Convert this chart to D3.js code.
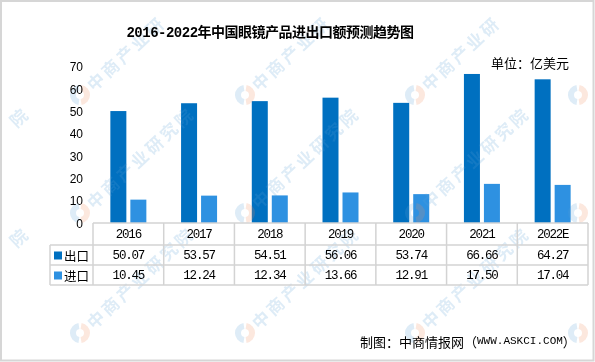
<!DOCTYPE html>
<html><head><meta charset="utf-8">
<script src="https://cdn.jsdelivr.net/npm/d3@7"></script>
<style>html,body{margin:0;padding:0;background:#fff;}svg{display:block;}</style>
</head><body>
<svg id="c" width="595" height="362"></svg>
<script>
const years = ["2016","2017","2018","2019","2020","2021","2022E"];
const seriesNames = ["出口","进口"];
const exportVals = [50.07,53.57,54.51,56.06,53.74,66.66,64.27];
const importVals = [10.45,12.24,12.34,13.66,12.91,17.50,17.04];
const exportLabels = ["50.07","53.57","54.51","56.06","53.74","66.66","64.27"];
const importLabels = ["10.45","12.24","12.34","13.66","12.91","17.50","17.04"];
const yTicks = [0,10,20,30,40,50,60,70];
const colors = ["#0070c0","#2e91e1"];
const titleText = "2016-2022年中国眼镜产品进出口额预测趋势图";
const unitText = "单位：亿美元";
const sourceCN = "制图：中商情报网（";
const sourceEN = "WWW.ASKCI.COM";
const sourceEnd = "）";
const wmText = "中商产业研究院";

const svg = d3.select("#c");
svg.append("rect").attr("x",0).attr("y",0).attr("width",595).attr("height",362).attr("fill","#fff");

const CJK = "'Noto Sans CJK SC', sans-serif";
const MONO = "'Liberation Mono', 'Noto Sans CJK SC', monospace";

// scales
const y = d3.scaleLinear().domain([0,70]).range([223,66.5]);
const x = d3.scaleBand().domain(years).range([93,588]).padding(0);
const xs = d3.scaleBand().domain(seriesNames).range([-18,18]).paddingInner(0.2);

// bars
const series = [exportVals, importVals];
series.forEach((vals,si)=>{
  svg.append("g").selectAll("rect").data(vals).join("rect")
    .attr("x",(d,i)=>x(years[i])+x.bandwidth()/2+xs(seriesNames[si]))
    .attr("width",xs.bandwidth())
    .attr("y",d=>y(d)).attr("height",d=>y(0)-y(d))
    .attr("fill",colors[si]);
});

// watermark (drawn over bars, faint); characters placed individually, only those fully inside
const clip = svg.append("clipPath").attr("id","wmclip");
clip.append("rect").attr("x",0).attr("y",0).attr("width",595).attr("height",362);
const wm = svg.append("g").attr("clip-path","url(#wmclip)").attr("opacity",0.2).style("pointer-events","none");
const wx = [-85,80,245,415,578];
const wy = [-25,95,213,333,453];
const ang = -43, ca = Math.cos(ang*Math.PI/180), sa = Math.sin(ang*Math.PI/180);
const chars = Array.from(wmText);
wx.forEach(x0=>wy.forEach(y0=>{
  const r = 7;
  const g = wm.append("g").attr("transform",`translate(${x0},${y0})`);
  g.append("path").attr("d",d3.arc()({innerRadius:r-3,outerRadius:r+3,startAngle:Math.PI*0.05,endAngle:Math.PI*0.95}))
    .attr("fill","#f08a5d");
  g.append("path").attr("d",d3.arc()({innerRadius:r-3,outerRadius:r+3,startAngle:Math.PI*1.05,endAngle:Math.PI*1.95}))
    .attr("fill","#5a9fd4");
  chars.forEach((ch,i)=>{
    const s = 20.5 + 20*i;
    const cx = x0 + ca*s, cy = y0 + sa*s;
    if (cx < 14 || cx > 581 || cy < 14 || cy > 348) return;
    wm.append("text").attr("transform",`translate(${cx},${cy}) rotate(${ang})`)
      .attr("text-anchor","middle").attr("dominant-baseline","central")
      .style("font-family",CJK).style("font-size","17px").style("font-weight","bold")
      .attr("fill","#5a9fd4").text(ch);
  });
}));

svg.append("rect").attr("x",1).attr("y",1).attr("width",592.5).attr("height",359.5)
  .attr("fill","none").attr("stroke","#d6d6d6").attr("stroke-width",2);

// title
svg.append("text").attr("x",270).attr("y",33).attr("text-anchor","middle")
  .attr("dominant-baseline","central")
  .style("font-family",MONO).style("font-size","14px").style("font-weight","bold")
  .style("letter-spacing","-0.5px").attr("fill","#000").text(titleText);

svg.append("text").attr("x",491).attr("y",62).attr("dominant-baseline","central")
  .style("font-family",CJK).style("font-size","13px").attr("fill","#000").text(unitText);

// y axis labels
const yAxis = d3.axisLeft(y).tickValues(yTicks).tickSize(0).tickPadding(0);
const ga = svg.append("g").attr("transform","translate(83,0)").call(yAxis);
ga.select(".domain").remove();
ga.selectAll("text").style("font-family","'Liberation Sans', Arial, sans-serif")
  .style("font-size","12px").attr("fill","#000").attr("dy","0.35em");

// table
const tg = svg.append("g");
const lineC = "#d3d3d3";
tg.append("line").attr("x1",93).attr("x2",588).attr("y1",223).attr("y2",223).attr("stroke",lineC).attr("stroke-width",1.5);
[245,265,285].forEach(yy=>tg.append("line").attr("x1",50).attr("x2",588).attr("y1",yy).attr("y2",yy).attr("stroke",lineC).attr("stroke-width",1.5));
tg.append("line").attr("x1",50).attr("x2",50).attr("y1",245).attr("y2",285).attr("stroke",lineC).attr("stroke-width",1.5);
const bounds = years.map(d=>x(d)).concat([588]);
bounds.forEach(bx=>tg.append("line").attr("x1",bx).attr("x2",bx).attr("y1",223).attr("y2",285).attr("stroke",lineC).attr("stroke-width",1.5));

const cellFont = sel=>sel.style("font-family",MONO).style("font-size","12.5px").style("letter-spacing","-1.2px")
  .attr("fill","#000").attr("text-anchor","middle").attr("dominant-baseline","central");
tg.selectAll("text.yr").data(years).join("text").attr("class","yr")
  .attr("x",d=>x(d)+x.bandwidth()/2).attr("y",235).call(cellFont).text(d=>d);
[exportLabels, importLabels].forEach((labs,si)=>{
  const cy = si===0?255.5:275.5;
  tg.selectAll("text.v"+si).data(labs).join("text").attr("class","v"+si)
    .attr("x",(d,i)=>x(years[i])+x.bandwidth()/2).attr("y",cy).call(cellFont).text(d=>d);
  tg.append("rect").attr("x",54).attr("y",cy-4).attr("width",8).attr("height",8).attr("fill",colors[si]);
  tg.append("text").attr("x",64).attr("y",cy).attr("dominant-baseline","central")
    .style("font-family",CJK).style("font-size","12.5px").attr("fill","#000").text(seriesNames[si]);
});

// source
const st = svg.append("text").attr("x",360).attr("y",341).attr("dominant-baseline","central")
  .style("font-family",CJK).style("font-size","13px").attr("fill","#000");
st.append("tspan").text(sourceCN);
st.append("tspan").style("font-family","'Liberation Mono', monospace").style("font-size","11px").text(sourceEN);
st.append("tspan").text(sourceEnd);
</script>
</body></html>
